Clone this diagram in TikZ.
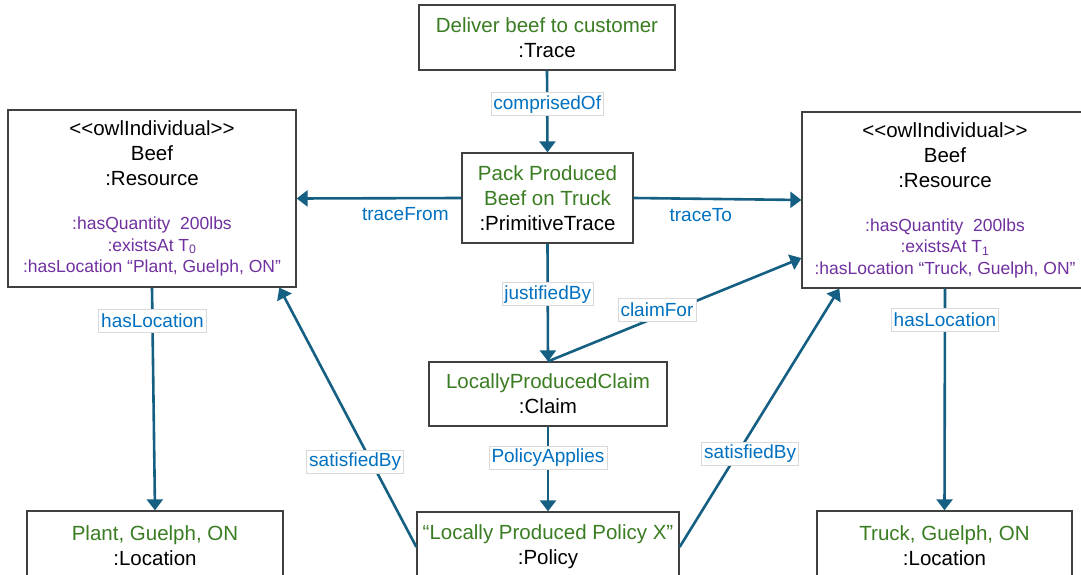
\documentclass[tikz,border=0pt]{standalone}
\usepackage{fontspec}
\setmainfont{Liberation Sans}
\usetikzlibrary{arrows.meta}
\definecolor{linkblue}{HTML}{156082}
\definecolor{tagblue}{HTML}{0070C0}
\definecolor{leaf}{HTML}{3A7D22}
\definecolor{prop}{HTML}{7030A0}
\definecolor{boxline}{HTML}{404040}
\definecolor{tagline}{HTML}{D9D9D9}
\newcommand\propline[1]{\textcolor{prop}{\fontsize{17.5}{21.5}\selectfont #1}}
\begin{document}
\begin{tikzpicture} [
        x=1pt, y=-1pt,
        box/.style={draw=boxline, line width=1.3pt, fill=white, align=center, inner sep=0pt,
            font=\fontsize{20.5}{25}\selectfont},
        tag/.style={draw=tagline, line width=0.6pt, fill=white, text=tagblue, inner sep=2.5pt,
            minimum height=23pt, font=\fontsize{19}{22}\selectfont},
        note/.style={text=tagblue, font=\fontsize{19}{22}\selectfont, below=5pt},
        edge/.style={draw=linkblue, line width=2.6pt, -{Triangle[length=11pt,width=16pt]}},
    ]
    \useasboundingbox (0,0) rectangle (1081,575);
    % First we draw the boxes
    \node[box, minimum width=256pt, minimum height=65pt] (trace) at (547,37.5)
        {\textcolor{leaf}{Deliver beef to customer}\\:Trace};
    \node[box, minimum width=171pt, minimum height=90pt] (pack) at (547.5,198)
        {\textcolor{leaf}{Pack Produced}\\\textcolor{leaf}{Beef on Truck}\\:PrimitiveTrace};
    \node[box, minimum width=288pt, minimum height=177pt] (resL) at (152,198.5)
        {<\kern0pt<owlIndividual>\kern0pt>\\Beef\\:Resource\\[19pt]
         \propline{:hasQuantity~~200lbs}\\[-3.5pt]
         \propline{:existsAt T\textsubscript{0}}\\[-3.5pt]
         \propline{:hasLocation “Plant, Guelph, ON”}};
    \node[box, minimum width=286pt, minimum height=176pt] (resR) at (945,200)
        {<\kern0pt<owlIndividual>\kern0pt>\\Beef\\:Resource\\[19pt]
         \propline{:hasQuantity~~200lbs}\\[-3.5pt]
         \propline{:existsAt T\textsubscript{1}}\\[-3.5pt]
         \propline{:hasLocation “Truck, Guelph, ON”}};
    \node[box, minimum width=238pt, minimum height=64pt] (claim) at (548,394)
        {\textcolor{leaf}{LocallyProducedClaim}\\:Claim};
    \node[box, minimum width=262pt, minimum height=70pt] (policy) at (548,547)
        {\textcolor{leaf}{“Locally Produced Policy X”}\\:Policy};
    \node[box, minimum width=256pt, minimum height=70pt] (plant) at (155,546)
        {\textcolor{leaf}{Plant, Guelph, ON}\\:Location};
    \node[box, minimum width=255pt, minimum height=70pt] (truck) at (944.5,546)
        {\textcolor{leaf}{Truck, Guelph, ON}\\:Location};
    % Connect boxes with labelled links
    \foreach \source/\dest/\p/\s/\name in {
            trace.south/pack.north/.41/tag/comprisedOf,
            pack.south/claim.north/.43/tag/justifiedBy,
            claim.south/policy.north/.37/tag/PolicyApplies,
            resL.south/plant.north/.15/tag/hasLocation,
            resR.south/truck.north/.14/tag/hasLocation,
            pack.west/resL.east/.34/note/traceFrom,
            pack.east/resR.west/.40/note/traceTo}
        \path[edge] (\source) -- node[pos=\p, \s] {\name} (\dest);
    % slanted links to the resources
    \path[edge] (claim.north) -- node[pos=.43, tag, yshift=7pt] {claimFor} (resR.202.8);
    \path[edge] (policy.west) -- node[pos=.33, tag, xshift=-16pt] {satisfiedBy} (resL.325.8);
    \path[edge] (policy.east) -- node[pos=.36, tag, xshift=13pt] {satisfiedBy} (resR.220.8);
\end{tikzpicture}
\end{document}
